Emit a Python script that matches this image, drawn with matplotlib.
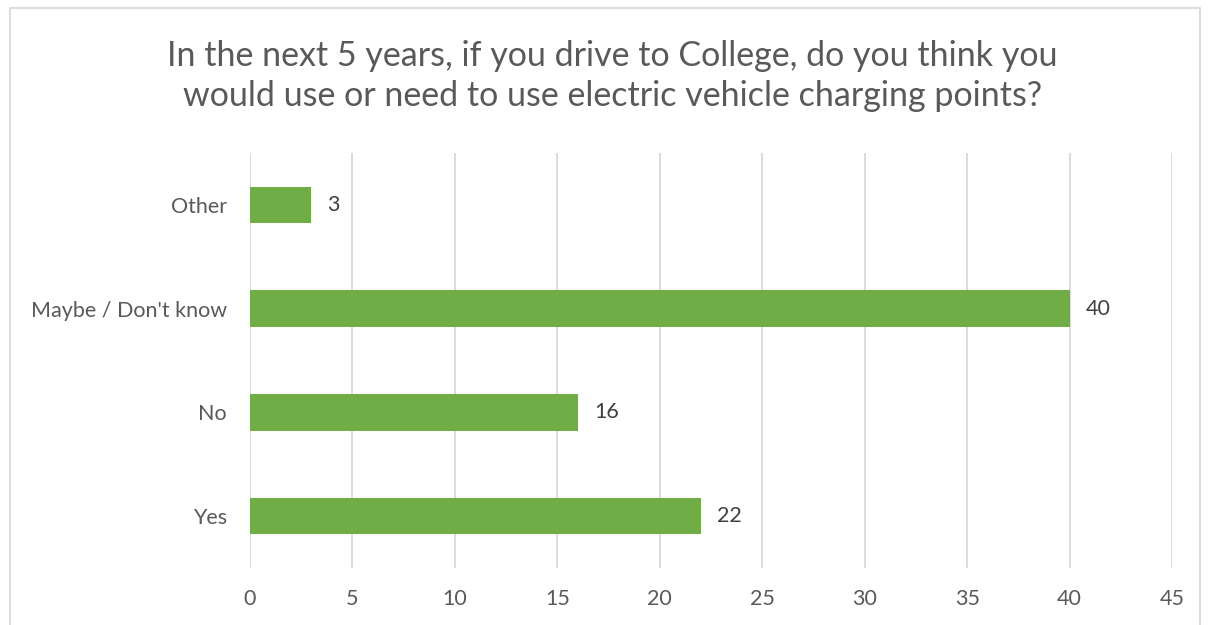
import matplotlib.pyplot as plt
from matplotlib.patches import Rectangle

categories = ["Yes", "No", "Maybe / Don't know", "Other"]
counts = [22, 16, 40, 3]
x_ticks = [0, 5, 10, 15, 20, 25, 30, 35, 40, 45]
title = ("In the next 5 years, if you drive to College, do you think you\n"
         "would use or need to use electric vehicle charging points?")

TEXT = "#595959"
LABEL = "#404040"
GRID = "#D9D9D9"
BAR = "#70AD47"

plt.rcParams["font.family"] = ["Lato", "DejaVu Sans"]

fig = plt.figure(figsize=(12.08, 6.25), dpi=100)
ax = fig.add_axes([250 / 1208, 1 - 568 / 625, (1172 - 250) / 1208, (568 - 153) / 625])

ypos = range(len(categories))
ax.barh(ypos, counts, height=0.35, color=BAR, zorder=3)
for y, v in zip(ypos, counts):
    ax.text(v + 0.78, y, str(v), va="center", ha="left", fontsize=15.5, color=LABEL)

ax.set_xlim(0, 45)
ax.set_ylim(-0.5, len(categories) - 0.5)
ax.set_xticks(x_ticks)
ax.set_yticks(list(ypos))
ax.set_yticklabels(categories)
ax.tick_params(axis="both", length=0, labelsize=15.5, colors=TEXT)
ax.tick_params(axis="y", pad=16.5)
ax.tick_params(axis="x", pad=15)
ax.grid(axis="x", color=GRID, linewidth=1.3, zorder=0)
for s in ax.spines.values():
    s.set_visible(False)

fig.text(0.507, 1 - 76 / 625, title, ha="center", va="center", fontsize=24.5,
         color=TEXT, linespacing=1.32)

# chart border
fig.patches.append(Rectangle((10 / 1208, -0.01), 1190 / 1208, 1 - 8 / 625 + 0.01,
                             transform=fig.transFigure, fill=False,
                             edgecolor=GRID, linewidth=1.3))

fig.savefig("out.png", dpi=100)
